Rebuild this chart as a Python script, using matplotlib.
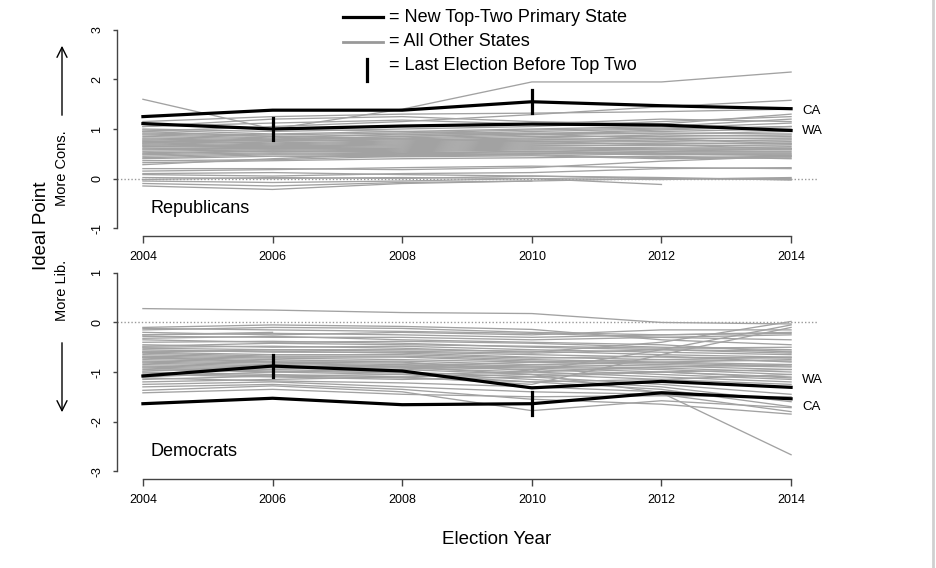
import numpy as np
import matplotlib.pyplot as plt

plt.rcParams['font.family'] = ['Liberation Sans', 'DejaVu Sans']

nan = np.nan

years = [2004, 2006, 2008, 2010, 2012, 2014]

# top-two primary states
rep_ca = [1.25, 1.38, 1.38, 1.55, 1.47, 1.41]
rep_wa = [1.11, 1.00, 1.06, 1.10, 1.08, 0.97]
dem_ca = [-1.64, -1.53, -1.66, -1.64, -1.42, -1.54]
dem_wa = [-1.08, -0.88, -0.98, -1.32, -1.19, -1.31]

# last election before top two
ca_last_year = 2010
wa_last_year = 2006

# all other states (nan = no value)
rep_other = [
    [1.60, 1.00, 1.40, 1.95, 1.95, 2.15],
    [0.95, 1.05, 1.15, 1.29, 1.45, 1.58],
    [1.05, 1.20, 1.25, 1.15, 1.10, 1.30],
    [1.00, 0.95, 1.00, 1.05, 1.15, 1.25],
    [0.98, 0.90, 0.95, 1.00, 1.05, 1.20],
    [0.92, 0.88, 0.92, 0.98, 1.02, 1.12],
    [0.90, 0.85, 0.88, 0.95, 1.00, 1.05],
    [0.88, 0.82, 0.90, 0.90, 0.95, 1.00],
    [0.85, 0.80, 0.85, 0.92, 0.90, 0.95],
    [0.82, 0.78, 0.82, 0.88, 0.92, 0.90],
    [0.80, 0.76, 0.80, 0.85, 0.85, 0.88],
    [0.78, 0.75, 0.78, 0.82, 0.88, 0.85],
    [0.76, 0.72, 0.76, 0.80, 0.80, 0.82],
    [0.75, 0.70, 0.74, 0.78, 0.82, 0.80],
    [0.72, 0.68, 0.72, 0.76, 0.75, 0.78],
    [0.70, 0.66, 0.70, 0.74, 0.78, 0.75],
    [0.68, 0.65, 0.68, 0.72, 0.70, 0.72],
    [0.66, 0.64, 0.66, 0.70, 0.72, 0.70],
    [0.65, 0.62, 0.64, 0.68, 0.66, 0.68],
    [0.62, 0.60, 0.62, 0.66, 0.68, 0.65],
    [0.60, 0.62, 0.60, 0.64, 0.62, 0.62],
    [0.58, 0.60, 0.58, 0.62, 0.60, 0.60],
    [0.55, 0.58, 0.56, 0.60, 0.58, 0.58],
    [0.52, 0.56, 0.54, 0.58, 0.55, 0.55],
    [0.50, 0.55, 0.52, 0.55, 0.52, 0.52],
    [0.48, 0.52, 0.50, 0.52, 0.50, 0.50],
    [0.45, 0.50, 0.48, 0.50, 0.48, 0.48],
    [0.42, 0.48, 0.46, 0.48, 0.42, 0.45],
    [0.40, 0.45, 0.44, 0.46, 0.40, 0.42],
    [0.36, 0.38, 0.45, 0.50, 0.55, 0.60],
    [0.32, 0.36, 0.40, 0.42, 0.45, 0.40],
    [0.28, 0.40, 0.50, 0.55, 0.50, 0.46],
    [1.10, 1.00, 0.95, 0.90, 0.80, 0.70],
    [0.95, 0.85, 0.80, 0.75, 0.68, 0.60],
    [0.72, 0.78, 0.85, 0.90, 0.98, 1.05],
    [0.20, 0.20, 0.18, 0.22, 0.35, 0.45],
    [0.15, 0.18, 0.22, 0.25, 0.22, 0.20],
    [0.08, 0.05, 0.10, 0.12, 0.20, 0.22],
    [0.02, 0.00, 0.02, 0.00, -0.02, 0.02],
    [-0.02, 0.02, 0.00, 0.05, 0.00, -0.02],
    [-0.05, -0.08, -0.05, 0.00, -0.12, nan],
    [-0.10, -0.15, -0.08, -0.05, nan, nan],
    [-0.15, -0.22, -0.10, -0.05, 0.00, 0.00],
    [0.10, 0.12, 0.08, 0.05, 0.02, -0.03],
    [1.15, 1.25, 1.30, 1.32, 1.35, 1.40],
    [1.05, 1.12, 1.18, 1.10, 1.20, 1.15],
]

dem_other = [
    [0.28, 0.25, 0.20, 0.18, 0.00, -0.03],
    [-0.25, -0.20, nan, nan, nan, nan],
    [-0.10, -0.05, -0.08, -0.14, -0.35, -0.45],
    [-0.15, -0.10, -0.12, -0.20, -0.25, -0.20],
    [-0.20, -0.25, -0.20, -0.25, -0.15, -0.15],
    [-0.28, -0.30, -0.30, -0.35, -0.30, -0.25],
    [-0.32, -0.28, -0.35, -0.40, -0.45, -0.60],
    [-0.35, -0.40, -0.38, -0.42, -0.50, -0.55],
    [-0.40, -0.38, -0.42, -0.50, -0.55, -0.62],
    [-0.45, -0.50, -0.48, -0.55, -0.60, -0.65],
    [-0.50, -0.48, -0.52, -0.60, -0.40, 0.02],
    [-0.52, -0.55, -0.55, -0.58, -0.65, -0.70],
    [-0.55, -0.60, -0.60, -0.65, -0.70, -0.72],
    [-0.58, -0.58, -0.62, -0.70, -0.75, -0.78],
    [-0.60, -0.65, -0.65, -0.72, -0.68, -0.80],
    [-0.62, -0.68, -0.68, -0.75, -0.80, -0.85],
    [-0.65, -0.70, -0.70, -0.78, -0.82, -0.88],
    [-0.68, -0.72, -0.75, -0.80, -0.85, -0.90],
    [-0.70, -0.75, -0.80, -0.98, -0.55, -0.05],
    [-0.72, -0.78, -0.78, -0.85, -0.88, -0.95],
    [-0.75, -0.80, -0.82, -0.88, -0.92, -1.00],
    [-0.78, -0.82, -0.85, -0.90, -0.95, -1.05],
    [-0.80, -0.85, -0.88, -0.92, -1.00, -1.10],
    [-0.82, -0.88, -0.90, -0.95, -1.05, -1.15],
    [-0.85, -0.90, -0.92, -1.00, -1.10, -1.20],
    [-0.88, -0.92, -0.95, -1.05, -1.15, -1.25],
    [-0.90, -0.95, -1.00, -1.10, -1.25, -1.45],
    [-0.92, -0.98, -1.02, -1.15, -1.30, -1.60],
    [-0.95, -1.00, -1.05, -1.20, -1.35, -1.70],
    [-0.70, -0.80, -0.90, -1.05, -1.42, -2.67],
    [-1.00, -1.05, -1.10, -1.25, -0.65, -0.10],
    [-1.02, -1.08, -1.12, -1.20, -1.15, -1.05],
    [-1.05, -1.10, -1.15, -1.10, -1.00, -0.95],
    [-1.10, -1.00, -0.95, -0.85, -0.80, -0.75],
    [-1.15, -1.08, -1.05, -1.00, -0.90, -0.85],
    [-1.20, -1.15, -1.10, -1.05, -1.00, -1.12],
    [-1.25, -1.20, -1.30, -1.40, -1.45, -1.80],
    [-1.30, -1.25, -1.35, -1.55, -1.65, -1.85],
    [-1.37, -1.28, -1.40, -1.78, -1.58, -1.72],
    [-1.42, -1.35, -1.45, -1.50, -1.48, -1.50],
    [-0.25, -0.22, -0.25, -0.30, -0.25, -0.22],
    [-0.12, -0.15, -0.18, -0.22, -0.30, -0.35],
    [-0.48, -0.42, -0.45, -0.48, -0.52, -0.50],
    [-0.98, -0.90, -0.88, -0.80, -0.75, -0.70],
    [-0.60, -0.55, -0.58, -0.62, -0.55, -0.58],
    [-1.12, -1.18, -1.22, -1.30, -1.40, -1.55],
]

W, H = 936, 568
GREY = '#a2a2a2'


def fx(x):
    return x / W


def fy(y):
    return 1 - y / H


def draw_panel(ax, other, ca, wa, ylim, yticks, party, ca_lbl_y, wa_lbl_y):
    # zero reference line
    ax.axhline(0, color='#999999', lw=1, ls=(0, (1, 1.5)), zorder=1)
    for row in other:
        ax.plot(years, row, color=GREY, lw=0.95, zorder=2)
    ax.plot(years, ca, color='black', lw=2.3, zorder=3)
    ax.plot(years, wa, color='black', lw=2.3, zorder=3)

    # mark last election before top two
    for line, yr in ((ca, ca_last_year), (wa, wa_last_year)):
        v = line[years.index(yr)]
        ax.plot([yr, yr], [v - 0.23, v + 0.23], color='black', lw=2.3, zorder=4)

    ax.text(2014.17, ca_lbl_y, 'CA', fontsize=9.5, ha='left', va='center')
    ax.text(2014.17, wa_lbl_y, 'WA', fontsize=9.5, ha='left', va='center')
    ax.text(2004.12, ylim[0] + 0.55, party, fontsize=13, ha='left', va='center')

    ax.set_xlim(2003.6, 2014.4)
    ax.set_ylim(*ylim)
    ax.set_xticks(years)
    ax.set_yticks(yticks)
    ax.set_xticklabels([str(y) for y in years], fontsize=9)
    ax.set_yticklabels([str(t) for t in yticks], fontsize=9, rotation=90, va='center')

    # R style axes: no box, spines only over the tick range
    for s in ('top', 'right'):
        ax.spines[s].set_visible(False)
    ax.spines['left'].set_bounds(yticks[0], yticks[-1])
    ax.spines['bottom'].set_bounds(years[0], years[-1])
    for s in ('left', 'bottom'):
        ax.spines[s].set_color('#444444')
        ax.spines[s].set_linewidth(1)
    ax.tick_params(axis='x', length=5, width=1, color='#444444', pad=6)
    ax.tick_params(axis='y', length=3, width=1, color='#444444', pad=7)


fig = plt.figure(figsize=(W / 100, H / 100), dpi=100)
ax_rep = fig.add_axes([fx(117), fy(236), 700 / W, 214 / H])
ax_dem = fig.add_axes([fx(117), fy(479), 700 / W, 214 / H])

draw_panel(ax_rep, rep_other, rep_ca, rep_wa, (-1.16, 3.16), [-1, 0, 1, 2, 3],
           'Republicans', 1.37, 0.95)
draw_panel(ax_dem, dem_other, dem_ca, dem_wa, (-3.16, 1.16), [-3, -2, -1, 0, 1],
           'Democrats', -1.70, -1.17)

# legend at the top
fig.add_artist(plt.Line2D([fx(343), fx(383)], [fy(17), fy(17)], color='black', lw=2.3))
fig.add_artist(plt.Line2D([fx(343), fx(383)], [fy(42), fy(42)], color='#999999', lw=2))
fig.add_artist(plt.Line2D([fx(367), fx(367)], [fy(59), fy(81)], color='black', lw=2.3))
fig.text(fx(389), fy(17), '= New Top-Two Primary State', fontsize=13, va='center')
fig.text(fx(389), fy(42), '= All Other States', fontsize=13, va='center')
fig.text(fx(389), fy(66), '= Last Election Before Top Two', fontsize=13, va='center')

# axis titles and direction arrows
fig.text(fx(41), fy(226), 'Ideal Point', fontsize=13.5, rotation=90, ha='center', va='center')
fig.text(fx(62), fy(168), 'More Cons.', fontsize=10.5, rotation=90, ha='center', va='center')
fig.text(fx(62), fy(290), 'More Lib.', fontsize=10.5, rotation=90, ha='center', va='center')
ax_rep.annotate('', xy=(62, H - 43), xytext=(62, H - 118), xycoords='figure pixels',
                textcoords='figure pixels', annotation_clip=False,
                arrowprops=dict(arrowstyle='->', lw=1, color='black', mutation_scale=18))
ax_dem.annotate('', xy=(62, H - 415), xytext=(62, H - 340), xycoords='figure pixels',
                textcoords='figure pixels', annotation_clip=False,
                arrowprops=dict(arrowstyle='->', lw=1, color='black', mutation_scale=18))
fig.text(fx(497), fy(540), 'Election Year', fontsize=13.5, ha='center', va='center')

# right border seen in the reference
fig.add_artist(plt.Line2D([fx(933), fx(933)], [0, 1], color='#d0d0d0', lw=2))

fig.savefig('out.png', dpi=100, facecolor='white')
